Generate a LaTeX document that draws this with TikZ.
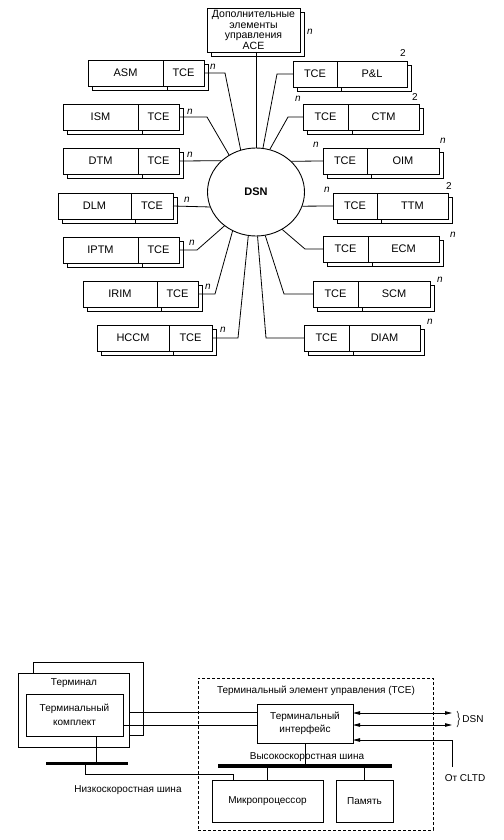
\documentclass[tikz,border=0pt]{standalone}
\usepackage{fontspec}
\setmainfont{Liberation Sans}
\usetikzlibrary{shapes.geometric,arrows.meta,decorations.pathreplacing}
\newcommand\fa{\fontsize{11}{12}\selectfont}
\newcommand\fb{\fontsize{10}{13.5}\selectfont}
\tikzset{
  cell/.style={draw,fill=white,line width=0.9pt,minimum height=26,inner sep=0pt,outer sep=0pt,font=\fa},
  conn/.style={line width=0.8pt},
  nlab/.style={font=\fontsize{10}{12}\selectfont\itshape,inner sep=0pt},
  twolab/.style={font=\fontsize{10}{12}\selectfont,inner sep=0pt},
  box/.style={draw,fill=white,line width=0.9pt,inner sep=0pt,outer sep=0pt,font=\fb,align=center},
  dashbox/.style={draw,line width=0.9pt,dash pattern=on 3pt off 2pt,inner sep=0pt,outer sep=0pt},
  txt/.style={font=\fb,inner sep=0pt},
}
\newcommand\pairbox[7]{%
  \fill[white,draw=black,line width=0.9pt] (#2+4,#5+4) rectangle (#4+4,#5+30);
  \draw[line width=0.9pt] (#3+4,#5+4) -- (#3+4,#5+30);
  \node[cell,minimum width={#3-#2},anchor=north west] (#1-l) at (#2,#5) {#6};
  \node[cell,minimum width={#4-#3},anchor=north west] (#1-r) at (#3,#5) {#7};
}
\begin{document}
\begin{tikzpicture}[x=1pt,y=-1pt]
\useasboundingbox (0,0) rectangle (503,840);
\fill[white] (0,0) rectangle (503,840);

% ---------- top diagram ----------
\fill[white,draw=black,line width=0.9pt] (211,12) rectangle (304,56);
\node[cell,minimum width=93,minimum height=44,anchor=north west,align=center,
      font=\fontsize{10.5}{10.7}\selectfont] (ace) at (207,8)
      {Дополнительные\\элементы\\управления\\ACE};

\pairbox{asm}{88}{163}{204}{60}{ASM}{TCE}
\pairbox{ism}{63}{138}{179}{104}{ISM}{TCE}
\pairbox{dtm}{63}{138}{179}{148}{DTM}{TCE}
\pairbox{dlm}{58}{131}{173}{193}{DLM}{TCE}
\pairbox{iptm}{63}{138}{179}{237}{IPTM}{TCE}
\pairbox{irim}{83}{157}{198}{281}{IRIM}{TCE}
\pairbox{hccm}{97}{169}{212}{325}{HCCM}{TCE}

\pairbox{pl}{293}{337}{407}{61}{TCE}{P\&L}
\pairbox{ctm}{303}{348}{419}{104}{TCE}{CTM}
\pairbox{oim}{323}{367}{439}{148}{TCE}{OIM}
\pairbox{ttm}{333}{377}{448}{193}{TCE}{TTM}
\pairbox{ecm}{323}{368}{439}{236}{TCE}{ECM}
\pairbox{scm}{313}{358}{430}{281}{TCE}{SCM}
\pairbox{diam}{304}{349}{420}{325}{TCE}{DIAM}

\node[ellipse,draw,line width=0.9pt,minimum width=97,minimum height=88,inner sep=0pt,
      font=\fa\bfseries] (DSN) at (256,192) {DSN};

\draw[conn] (ace.south -| DSN.north) -- (DSN.north);
\draw[conn] (asm-r.east) -- ++(21,0) -- (DSN.110);
\draw[conn] (ism-r.east) -- ++(28,0) -- (DSN.126);
\draw[conn] (dtm-r.east) -- (DSN.138);
\draw[conn] (dlm-r.east) -- (DSN.198);
\draw[conn] (iptm-r.east) -- ++(18,0) -- (DSN.227);
\draw[conn] (irim-r.east) -- ++(17,0) -- (DSN.239);
\draw[conn] (hccm-r.east) -- ++(26,0) -- (DSN.260);
\draw[conn] (diam-l.west) -- ++(-38,0) -- (DSN.272);
\draw[conn] (scm-l.west) -- ++(-29,0) -- (DSN.282);
\draw[conn] (ecm-l.west) -- ++(-18,0) -- (DSN.305);
\draw[conn] (ttm-l.west) -- (DSN.343);
\draw[conn] (oim-l.west) -- (DSN.41);
\draw[conn] (ctm-l.west) -- ++(-15,0) -- (DSN.72);
\draw[conn] (pl-l.west) -- ++(-16,0) -- (DSN.81);

\node[nlab] (n-ace) at (310,32) {n};
\node[nlab] (n-asm) at (213,67) {n};
\node[nlab] (n-ism) at (190,112) {n};
\node[nlab] (n-dtm) at (190,155) {n};
\node[nlab] (n-dlm) at (187,200) {n};
\node[nlab] (n-iptm) at (192,243) {n};
\node[nlab] (n-irim) at (208,287) {n};
\node[nlab] (n-hccm) at (223,330) {n};
\node[twolab] (t-pl) at (403,53) {2};
\node[nlab] (n-ctm) at (298,99) {n};
\node[twolab] (t-ctm) at (415,97) {2};
\node[nlab] (n-oim) at (316,145) {n};
\node[nlab] (n-oim2) at (443,141) {n};
\node[nlab] (n-ttm) at (327,190) {n};
\node[twolab] (t-ttm) at (449,186) {2};
\node[nlab] (n-ecm) at (453,235) {n};
\node[nlab] (n-scm) at (440,280) {n};
\node[nlab] (n-diam) at (430,322) {n};

% ---------- bottom diagram ----------
\node[dashbox,minimum width=235,minimum height=152,anchor=north west] (tce) at (198,678) {};
\node[txt] (tcelbl) at (316,691) {Терминальный элемент управления (TCE)};

\node[box,minimum width=110,minimum height=73,anchor=north west] (termb) at (33,662) {};
\node[box,minimum width=111,minimum height=74,anchor=north west] (term) at (18,673) {};
\node[txt] (termlbl) at (74,683) {Терминал};
\node[box,minimum width=97,minimum height=42,anchor=north west] (kit) at (26,694) {Терминальный\\комплект};

\node[box,minimum width=96,minimum height=39,anchor=north west] (iface) at (257,704) {Терминальный\\интерфейс};
\node[box,minimum width=111,minimum height=42,anchor=north west] (mp) at (212,780) {Микропроцессор};
\node[box,minimum width=57,minimum height=42,anchor=north west] (mem) at (336,780) {Память};

\coordinate (lb1) at (46,763);
\coordinate (lb2) at (128,763);
\coordinate (hb1) at (218,766);
\coordinate (hb2) at (392,766);
\coordinate (dsnx) at (452,713);
\coordinate (cl) at (452,767);

\draw[line width=3pt] (lb1) -- (lb2);
\draw[line width=3.5pt] (hb1) -- (hb2);

\node[txt] (hblbl) at (307,757) {Высокоскоростная шина};
\node[txt] (lblbl) at (128,790) {Низкоскоростная шина};

\draw[conn] ([yshift=11.5pt]iface.west) -- ([yshift=11.5pt]iface.west -| term.east);
\draw[conn] ([yshift=-2pt]iface.west) -- ([yshift=-2pt]iface.west -| kit.east);

\draw[conn,{Triangle[length=7pt,width=3.5pt]}-{Triangle[length=7pt,width=3.5pt]}]
  ([yshift=10.5pt]iface.east) -- ([yshift=10.5pt]iface.east -| dsnx);
\draw[conn,{Triangle[length=7pt,width=3.5pt]}-{Triangle[length=7pt,width=3.5pt]}]
  ([yshift=-1.5pt]iface.east) -- ([yshift=-1.5pt]iface.east -| dsnx);
\draw[conn,-{Triangle[length=7pt,width=3.5pt]}] (cl) |- ([yshift=-16.5pt]iface.east);

\draw[line width=0.6pt,decorate,decoration={brace,amplitude=2.5pt}] (457,711) -- (457,727);
\node[txt] (dsnlbl) at (473,719) {DSN};
\node[txt] (cltd) at (465,778) {От CLTD};

\draw[conn] (iface.south) -- (iface.south |- hb1);
\draw[conn] (mp.north) -- (mp.north |- hb1);
\draw[conn] (mem.north) -- (mem.north |- hb1);
\draw[conn] ([xshift=70pt]kit.south west) -- ([xshift=70pt]kit.south west |- lb1);
\draw[conn] ([xshift=39pt]lb1) -- ++(0,11) -| ([xshift=21pt]mp.north west);
\end{tikzpicture}
\end{document}
